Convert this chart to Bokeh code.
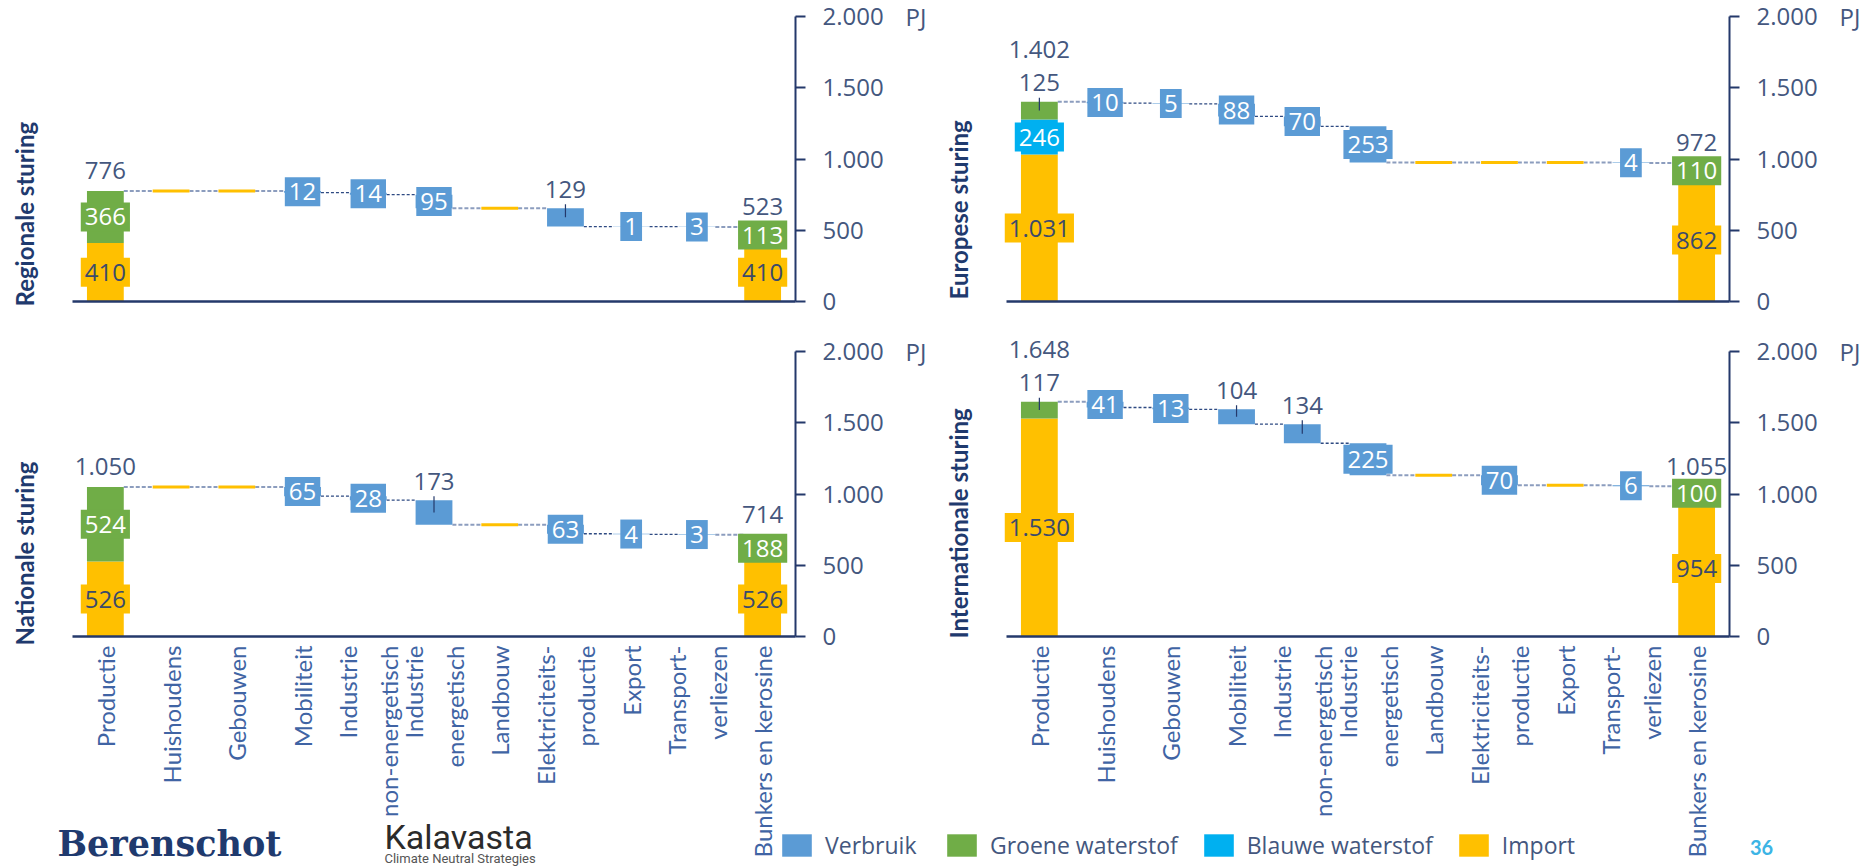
import math
from bokeh.plotting import figure
from bokeh.layouts import column, row
from bokeh.models import ColumnDataSource, Range1d, FixedTicker, Label, Legend, LegendItem
from bokeh.core.properties import value
from bokeh.embed import file_html
from bokeh.resources import INLINE

# ---------------- data ----------------
categories = ["Productie", "Huishoudens", "Gebouwen", "Mobiliteit",
              "Industrie\nnon-energetisch", "Industrie\nenergetisch", "Landbouw",
              "Elektriciteits-\nproductie", "Export", "Transport-\nverliezen",
              "Bunkers en kerosine"]
panel_titles = ["Regionale sturing", "Europese sturing", "Nationale sturing", "Internationale sturing"]
series_names = ["Verbruik", "Groene waterstof", "Blauwe waterstof", "Import"]
y_ticks = [0, 500, 1000, 1500, 2000]
y_tick_labels = ["0", "500", "1.000", "1.500", "2.000"]

prod_import = [410, 1031, 526, 1530]
prod_blauw = [0, 246, 0, 0]
prod_groen = [366, 125, 524, 117]
prod_total = [776, 1402, 1050, 1648]
bunk_import = [410, 862, 526, 954]
bunk_groen = [113, 110, 188, 100]
bunk_total = [523, 972, 714, 1055]
# Huishoudens .. Transport-verliezen
verbruik_regionale = [0, 0, 12, 14, 95, 0, 129, 1, 3]
verbruik_europese = [10, 5, 88, 70, 253, 0, 0, 0, 4]
verbruik_nationale = [0, 0, 65, 28, 173, 0, 63, 4, 3]
verbruik_internationale = [41, 13, 104, 134, 225, 0, 70, 0, 6]
verbruik = [verbruik_regionale, verbruik_europese, verbruik_nationale, verbruik_internationale]

# label placement (style): which labels sit above the bar with a leader line
outside_verbruik = [
    [False, False, False, False, False, False, True, False, False],
    [False] * 9,
    [False, False, False, False, True, False, False, False, False],
    [False, False, True, True, False, False, False, False, False],
]
outside_groen = [False, True, False, True]
title_offset_px = [5, -2, 9, 2]

# ---------------- style ----------------
C_VERBRUIK = "#5B9BD5"
C_GROEN = "#70AD47"
C_BLAUW = "#00B0F0"
C_IMPORT = "#FFC000"
NAVY = "#24396B"
NUM = "#44577E"
CAT = "#4064A4"

FIG_W = [934, 932]
FRAME_W = 723
FRAME_H = 285
BORDER_L = 72
N = len(categories)
UNIT = FRAME_W / N
PJ_PX = 2000 / FRAME_H
BAR_W = 0.56


def fmt(v):
    return f"{v:,}".replace(",", ".")


def xd(px):
    return (px - BORDER_L) / UNIT - 0.5


def yd(px_below):
    return -px_below * PJ_PX


def build_panel(k, col, rowi):
    W = FIG_W[col]
    H = 318 if rowi == 0 else 550
    base = 301 if rowi == 0 else 318          # baseline (value 0) in canvas px from top
    p = figure(width=W, height=H,
               x_range=Range1d(xd(0), xd(W)),
               y_range=Range1d((base - H) * PJ_PX, base * PJ_PX),
               y_axis_location="right", toolbar_location=None, output_backend="svg", title=None,
               min_border=0, min_border_left=0, min_border_right=0,
               min_border_top=0, min_border_bottom=0)
    p.outline_line_color = None
    p.xgrid.visible = False
    p.ygrid.visible = False

    ya = p.yaxis[0]
    ya.fixed_location = N - 0.5
    ya.bounds = (0, 2000)
    ya.ticker = FixedTicker(ticks=y_ticks)
    ya.major_label_overrides = dict(zip(y_ticks, y_tick_labels))
    ya.axis_line_color = NAVY
    ya.axis_line_width = 2
    ya.major_tick_line_color = NAVY
    ya.major_tick_line_width = 2
    ya.major_tick_in = 0
    ya.major_tick_out = 10
    ya.minor_tick_line_color = None
    ya.major_label_standoff = 17
    ya.major_label_text_font = "Open Sans"
    ya.major_label_text_font_size = "24px"
    ya.major_label_text_color = NUM

    xa = p.xaxis[0]
    xa.fixed_location = 0
    xa.bounds = (-0.5, N - 0.5)
    xa.axis_line_color = NAVY
    xa.axis_line_width = 2.5
    xa.major_tick_line_color = None
    xa.minor_tick_line_color = None
    xa.major_tick_in = 0
    xa.major_tick_out = 0
    if rowi == 1:
        xa.ticker = FixedTicker(ticks=list(range(N)))
        xa.major_label_overrides = {i: c for i, c in enumerate(categories)}
        xa.major_label_orientation = math.pi / 2
        xa.major_label_standoff = 9
        xa.major_label_text_font = "Lato"
        xa.major_label_text_font_size = "24px"
        xa.major_label_text_color = CAT
        xa.major_label_text_line_height = 1.4
    else:
        xa.ticker = FixedTicker(ticks=[])
        xa.major_label_standoff = 0

    # ---- waterfall geometry ----
    verb = verbruik[k]
    OUT = 19 * PJ_PX
    TOT = 20 * PJ_PX
    TOT2 = 52 * PJ_PX
    GAP = 4 * PJ_PX

    vb = dict(x=[], top=[], bottom=[])
    zeros = dict(x0=[], x1=[], y=[])
    inside = {c: dict(x=[], y=[], text=[]) for c in (C_VERBRUIK, C_GROEN, C_BLAUW, C_IMPORT)}
    outside = dict(x=[], y=[], text=[])
    leaders = dict(x0=[], y0=[], x1=[], y1=[])

    lvl = prod_total[k]
    levels_after = [lvl]
    for j, v in enumerate(verb):
        x = j + 1
        top, bot = lvl, lvl - v
        if v == 0:
            zeros["x0"].append(x - BAR_W / 2)
            zeros["x1"].append(x + BAR_W / 2)
            zeros["y"].append(lvl)
        else:
            vb["x"].append(x)
            vb["top"].append(top)
            vb["bottom"].append(bot)
            if outside_verbruik[k][j]:
                outside["x"].append(x); outside["y"].append(top + OUT); outside["text"].append(fmt(v))
                leaders["x0"].append(x); leaders["x1"].append(x)
                leaders["y0"].append(top + GAP); leaders["y1"].append((top + bot) / 2)
            else:
                d = inside[C_VERBRUIK]
                d["x"].append(x); d["y"].append((top + bot) / 2); d["text"].append(fmt(v))
        lvl = bot
        levels_after.append(lvl)

    # stacked totals (Productie / Bunkers en kerosine)
    imp_b = dict(x=[0, N - 1], bottom=[0, 0], top=[prod_import[k], bunk_import[k]])
    bl_b = dict(x=[0], bottom=[prod_import[k]], top=[prod_import[k] + prod_blauw[k]])
    g0 = prod_import[k] + prod_blauw[k]
    gr_b = dict(x=[0, N - 1], bottom=[g0, bunk_import[k]], top=[prod_total[k], bunk_total[k]])

    def add_in(c, x, y, v):
        inside[c]["x"].append(x); inside[c]["y"].append(y); inside[c]["text"].append(fmt(v))

    add_in(C_IMPORT, 0, prod_import[k] / 2, prod_import[k])
    if prod_blauw[k]:
        add_in(C_BLAUW, 0, prod_import[k] + prod_blauw[k] / 2, prod_blauw[k])
    if outside_groen[k]:
        outside["x"].append(0); outside["y"].append(prod_total[k] + OUT); outside["text"].append(fmt(prod_groen[k]))
        leaders["x0"].append(0); leaders["x1"].append(0)
        leaders["y0"].append(prod_total[k] + GAP); leaders["y1"].append((g0 + prod_total[k]) / 2)
        outside["x"].append(0); outside["y"].append(prod_total[k] + TOT2); outside["text"].append(fmt(prod_total[k]))
    else:
        add_in(C_GROEN, 0, (g0 + prod_total[k]) / 2, prod_groen[k])
        outside["x"].append(0); outside["y"].append(prod_total[k] + TOT); outside["text"].append(fmt(prod_total[k]))
    add_in(C_IMPORT, N - 1, bunk_import[k] / 2, bunk_import[k])
    add_in(C_GROEN, N - 1, (bunk_import[k] + bunk_total[k]) / 2, bunk_groen[k])
    outside["x"].append(N - 1); outside["y"].append(bunk_total[k] + TOT); outside["text"].append(fmt(bunk_total[k]))

    # connectors
    vals = [None] + list(verb) + [None]
    cg = dict(x0=[], x1=[], y=[])
    cn = dict(x0=[], x1=[], y=[])
    for i in range(N - 1):
        target = cg if (vals[i] in (None, 0) or vals[i + 1] in (None, 0)) else cn
        target["x0"].append(i + BAR_W / 2)
        target["x1"].append(i + 1 - BAR_W / 2)
        target["y"].append(levels_after[i])
    p.segment(x0="x0", x1="x1", y0="y", y1="y", source=ColumnDataSource(cg),
              line_color="#8C9DBE", line_width=2, line_dash="4 2")
    p.segment(x0="x0", x1="x1", y0="y", y1="y", source=ColumnDataSource(cn),
              line_color="#2E4A82", line_width=1.3, line_dash="3 2")

    r_imp = p.vbar(x="x", bottom="bottom", top="top", width=BAR_W, source=ColumnDataSource(imp_b),
                   fill_color=C_IMPORT, line_color=None)
    r_bl = p.vbar(x="x", bottom="bottom", top="top", width=BAR_W, source=ColumnDataSource(bl_b),
                  fill_color=C_BLAUW, line_color=None)
    r_gr = p.vbar(x="x", bottom="bottom", top="top", width=BAR_W, source=ColumnDataSource(gr_b),
                  fill_color=C_GROEN, line_color=None)
    r_vb = p.vbar(x="x", bottom="bottom", top="top", width=BAR_W, source=ColumnDataSource(vb),
                  fill_color=C_VERBRUIK, line_color=None)
    p.segment(x0="x0", x1="x1", y0="y", y1="y", source=ColumnDataSource(zeros),
              line_color=C_IMPORT, line_width=3)
    p.segment(x0="x0", x1="x1", y0="y0", y1="y1", source=ColumnDataSource(leaders),
              line_color=NAVY, line_width=1.2)

    for c, d in inside.items():
        if not d["x"]:
            continue
        tc = "#3B4A6B" if c == C_IMPORT else "#FFFFFF"
        p.text(x="x", y="y", text="text", source=ColumnDataSource(d),
               text_font=value("Open Sans"), text_font_size=value("24px"),
               text_color=tc, text_align="center", text_baseline="middle",
               background_fill_color=c, padding=dict(left=4, right=4, top=6, bottom=6))
    p.text(x="x", y="y", text="text", source=ColumnDataSource(outside),
           text_font=value("Open Sans"), text_font_size=value("24px"),
           text_color=NUM, text_align="center", text_baseline="middle")

    # panel title and unit
    p.add_layout(Label(x=xd(24), y=yd(title_offset_px[k]), text=panel_titles[k], angle=math.pi / 2,
                       text_align="left", text_baseline="middle", text_font="Lato",
                       text_font_style="bold", text_font_size="24px", text_color="#1F3A6E"))
    p.add_layout(Label(x=xd(905), y=2000, text="PJ", text_align="left", text_baseline="middle",
                       text_font="Open Sans", text_font_size="24px", text_color=NUM))
    return p, dict(v=r_vb, g=r_gr, b=r_bl, i=r_imp)


p1, _ = build_panel(0, 0, 0)
p2, _ = build_panel(1, 1, 0)
p3, r3 = build_panel(2, 0, 1)
p4, r4 = build_panel(3, 1, 1)

leg_kw = dict(orientation="horizontal", padding=0, margin=0, spacing=22, glyph_width=37,
              glyph_height=28, label_height=28, label_standoff=10, label_text_font="Open Sans",
              label_text_font_size="23px", label_text_color=NUM, border_line_color=None,
              background_fill_alpha=0)
p3.add_layout(Legend(items=[LegendItem(label=series_names[0], renderers=[r3["v"]])],
                     location=(778, 7), **leg_kw))
p4.add_layout(Legend(items=[LegendItem(label=series_names[1], renderers=[r4["g"]]),
                            LegendItem(label=series_names[2], renderers=[r4["b"]]),
                            LegendItem(label=series_names[3], renderers=[r4["i"]])],
                     location=(943 - 934, 7), **leg_kw))

# footer texts
p3.add_layout(Label(x=xd(57), y=yd(843 - 636), text="Berenschot", text_align="left", text_baseline="middle",
                    text_font="DejaVu Serif", text_font_style="bold", text_font_size="35px",
                    text_color="#1F3A6E"))
p3.add_layout(Label(x=xd(384), y=yd(836 - 636), text="Kalavasta", text_align="left", text_baseline="middle",
                    text_font="Roboto", text_font_size="34px", text_color="#2B2B2B"))
p3.add_layout(Label(x=xd(384), y=yd(858 - 636), text="Climate Neutral Strategies", text_align="left",
                    text_baseline="middle", text_font="Roboto", text_font_size="13px", text_color="#555555"))
p4.add_layout(Label(x=xd(1761 - 934), y=yd(847 - 636), text="36", text_align="center", text_baseline="middle",
                    text_font="Lato", text_font_style="bold", text_font_size="20px", text_color="#3CB4E5"))

layout = column(row(p1, p2), row(p3, p4))
open("out.html", "w").write(file_html(layout, INLINE))
